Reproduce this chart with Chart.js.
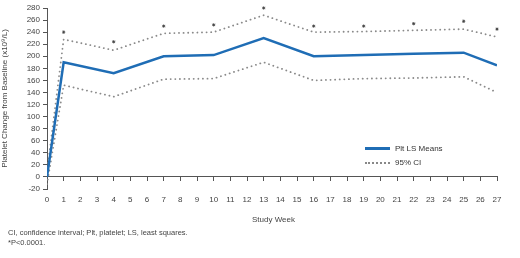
<!DOCTYPE html>
<html>
<head>
<meta charset="utf-8">
<script src="https://cdn.jsdelivr.net/npm/chart.js@4"></script>
<style>
    body { margin: 0; background: #fff; font-family: "Liberation Sans", Arial, sans-serif; }
    #wrap { position: relative; width: 520px; height: 258px; }
    .note { position: absolute; color: #444; font-size: 7.5px; white-space: nowrap; }
    .legend-row { position: absolute; left: 365px; font-size: 8px; color: #333; display: flex; align-items: center; }
    .swatch { width: 25px; margin-right: 5px; }
</style>
</head>
<body>
<div id="wrap">
    <canvas id="plateletChart" width="520" height="258"></canvas>
    <div class="legend-row" style="top: 144px;"><span class="swatch" style="border-top: 3px solid #1f6db5;"></span>Plt LS Means</div>
    <div class="legend-row" style="top: 158px;"><span class="swatch" style="border-top: 2px dotted #888;"></span>95% CI</div>
    <div class="note" style="left: 252px; top: 215px; font-size: 8px;">Study Week</div>
    <div class="note" style="left: 8px; top: 228px;">CI, confidence interval; Plt, platelet; LS, least squares.</div>
    <div class="note" style="left: 8px; top: 238px;">*P&lt;0.0001.</div>
</div>
<script>
// Platelet change from baseline by study week
const weeks = [0, 1, 4, 7, 10, 13, 16, 19, 22, 25, 27];
const lsMeans = [0, 190, 172, 200, 202, 230, 200, 202, 204, 206, 185];
const upperCI = [8, 228, 210, 238, 240, 268, 240, 241, 243, 245, 232];
const lowerCI = [-12, 152, 133, 162, 163, 190, 160, 163, 164, 166, 140];
const starWeeks = [1, 4, 7, 10, 13, 16, 19, 22, 25, 27];
const starValues = [240, 224, 250, 252, 280, 250, 250, 254, 258, 245];
const yTicks = [-20, 0, 20, 40, 60, 80, 100, 120, 140, 160, 180, 200, 220, 240, 260, 280];

function toPoints(xs, ys) {
    return xs.map((x, i) => ({ x: x, y: ys[i] }));
}

const tickFont = { family: '"Liberation Sans", Arial, sans-serif', size: 8 };

const ctx = document.getElementById('plateletChart');

new Chart(ctx, {
    type: 'line',
    data: {
        datasets: [
            {
                label: 'Plt LS Means',
                data: toPoints(weeks, lsMeans),
                borderColor: '#1f6db5',
                borderWidth: 2.5,
                pointRadius: 0,
                tension: 0
            },
            {
                label: '95% CI upper',
                data: toPoints(weeks, upperCI),
                borderColor: '#8a8a8a',
                borderWidth: 1.8,
                borderDash: [0.1, 4.5],
                borderCapStyle: 'round',
                pointRadius: 0,
                tension: 0
            },
            {
                label: '95% CI lower',
                data: toPoints(weeks, lowerCI),
                borderColor: '#8a8a8a',
                borderWidth: 1.8,
                borderDash: [0.1, 4.5],
                borderCapStyle: 'round',
                pointRadius: 0,
                tension: 0
            },
            {
                type: 'scatter',
                label: 'P<0.0001',
                data: toPoints(starWeeks, starValues),
                pointStyle: 'star',
                pointRadius: 1.6,
                borderColor: '#444',
                borderWidth: 0.9,
                showLine: false,
                clip: false
            }
        ]
    },
    options: {
        responsive: false,
        animation: false,
        layout: {
            padding: { top: 8, right: 23, bottom: 69, left: 0 }
        },
        plugins: {
            legend: { display: false },
            tooltip: { enabled: false }
        },
        scales: {
            x: {
                type: 'linear',
                position: { y: 0 },
                min: 0,
                max: 27,
                grid: {
                    drawOnChartArea: false,
                    drawTicks: true,
                    tickLength: 4,
                    color: '#555'
                },
                border: { display: true, color: '#555', width: 1 },
                ticks: {
                    stepSize: 1,
                    autoSkip: false,
                    maxRotation: 0,
                    padding: 14,
                    color: '#444',
                    font: tickFont
                }
            },
            y: {
                min: -20,
                max: 280,
                afterFit: function(scale) {
                    scale.width = 47;
                },
                afterBuildTicks: function(scale) {
                    scale.ticks = yTicks.map(v => ({ value: v }));
                },
                grid: {
                    drawOnChartArea: false,
                    drawTicks: true,
                    tickLength: 4,
                    color: '#555'
                },
                border: { display: true, color: '#555', width: 1 },
                ticks: {
                    autoSkip: false,
                    padding: 3,
                    color: '#444',
                    font: tickFont
                },
                title: {
                    display: true,
                    text: 'Platelet Change from Baseline (x10⁹/L)',
                    color: '#444',
                    font: tickFont,
                    padding: { top: 0, bottom: 2 }
                }
            }
        }
    }
});
</script>
</body>
</html>
